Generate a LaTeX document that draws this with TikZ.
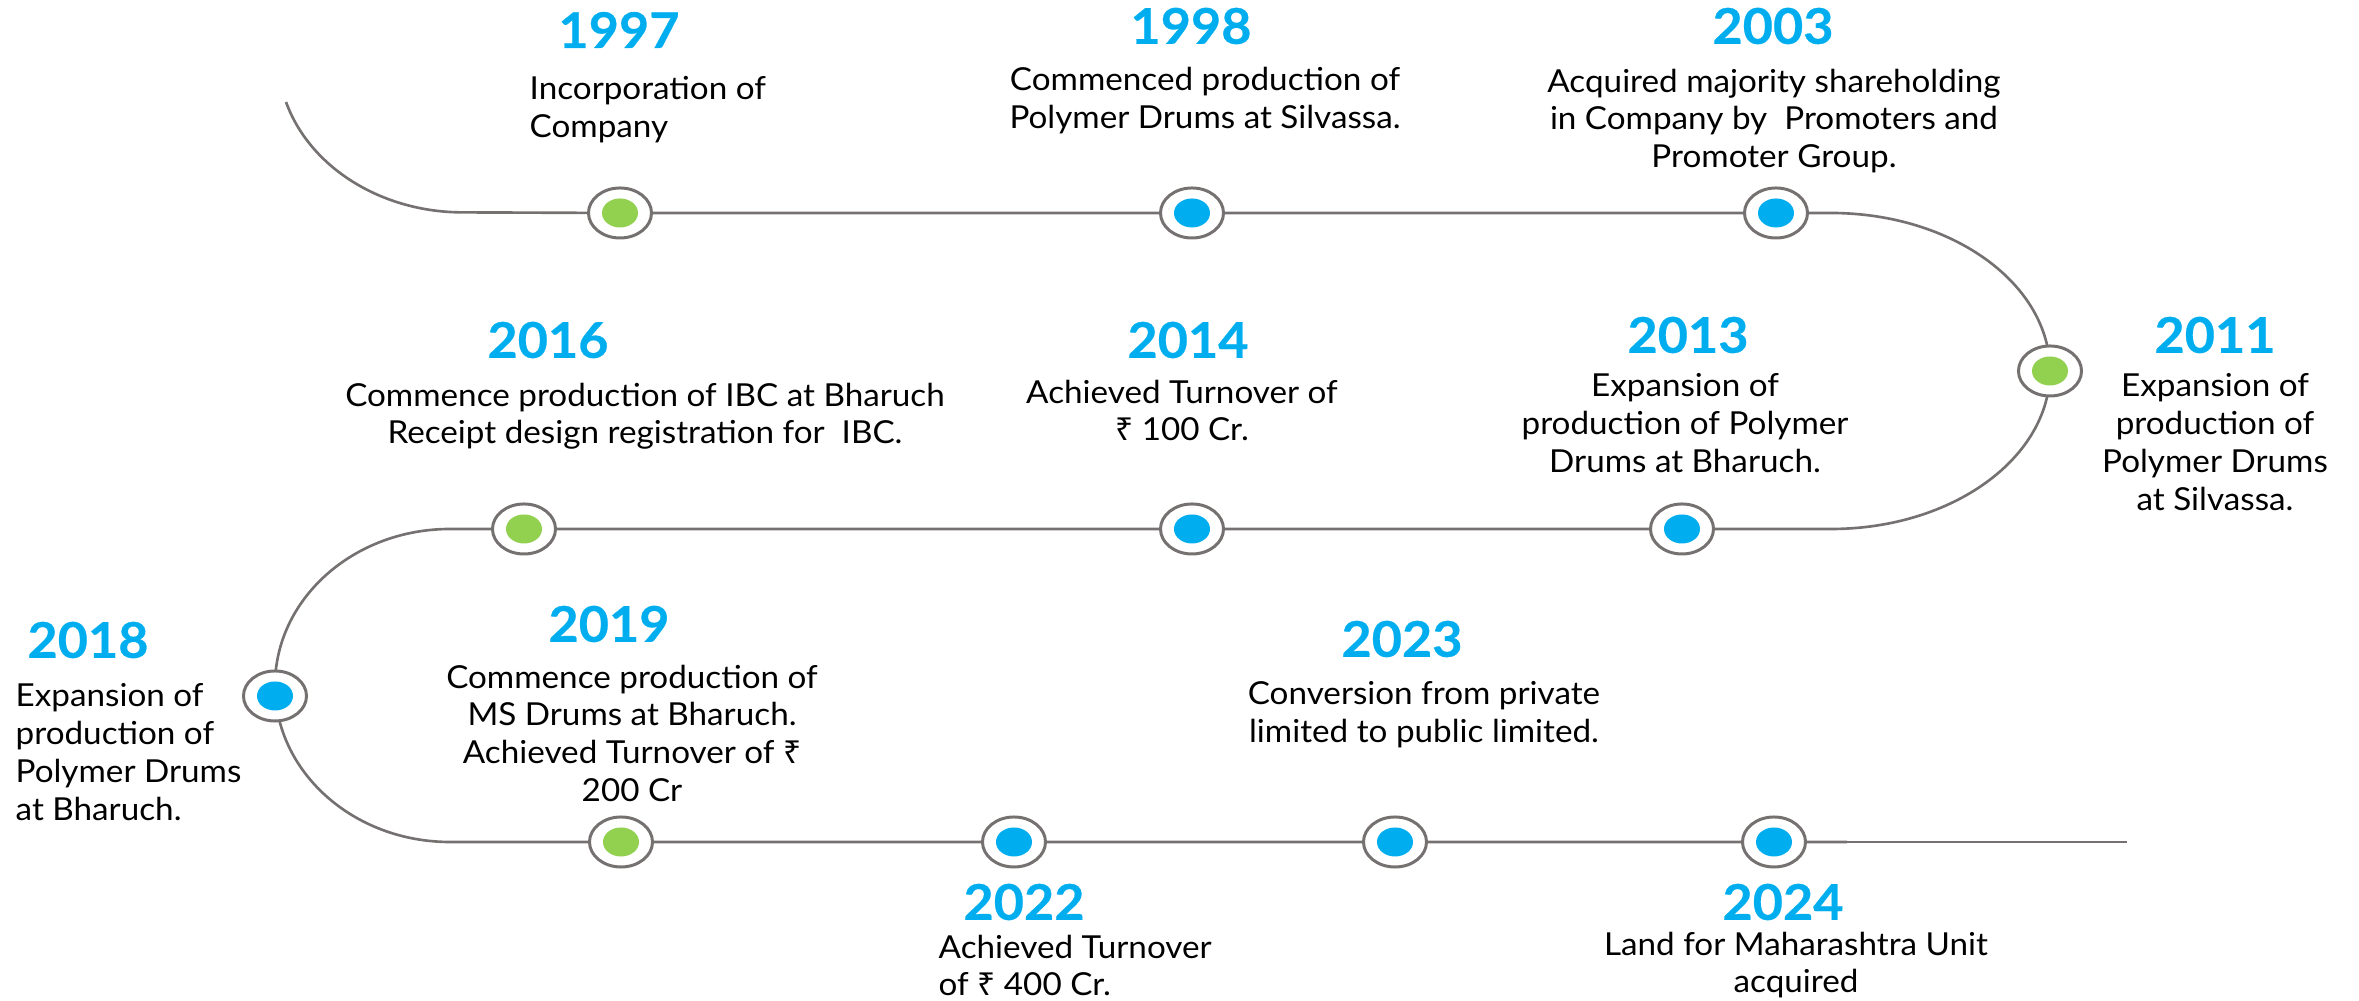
\documentclass[tikz,border=0pt]{standalone}
\usepackage{fontspec}
\setmainfont{Lato}[FakeStretch=1.05]
\newfontfamily\yearfont{Lato}[FakeStretch=1.06, FakeBold=0.5]
\newfontfamily\rupeefont{Noto Sans}
\newcommand{\rupee}{{\rupeefont ₹}}
\usetikzlibrary{shapes.geometric,backgrounds}
\definecolor{yearblue}{HTML}{00AEEF}
\definecolor{dotgreen}{HTML}{92D050}
\definecolor{trackgray}{HTML}{767171}
\tikzset{
	track/.style={draw=trackgray, line width=0.75pt},
	milestone/.style={ellipse, draw=trackgray, fill=white, line width=0.85pt,
		minimum width=0.63cm, minimum height=0.50cm, inner sep=0pt,
		path picture={\fill[#1] (path picture bounding box.center) ellipse [x radius=0.18cm, y radius=0.145cm];}},
	year/.style={text=yearblue, font=\fontsize{14}{16}\selectfont\yearfont\bfseries, inner sep=0pt},
	note/.style={font=\fontsize{9}{10.8}\selectfont, inner sep=0pt, align=center, anchor=north},
	noteleft/.style={note, align=left, anchor=north west}
}
\begin{document}
\begin{tikzpicture}[x=0.01cm, y=0.01cm]
	\useasboundingbox (0,0) rectangle (2359,-1001);
	%1997
	\node[milestone=dotgreen] (n97) at (620,-213) {};
	\node[year] (y97) at (619,-30) {1997};
	\node[noteleft] (t97) at (529,-76) {Incorporation of\\Company};
	%1998
	\node[milestone=yearblue] (n98) at (1192,-213) {};
	\node[year] (y98) at (1191,-26) {1998};
	\node[note] (t98) at (1205,-67) {Commenced production of\\Polymer Drums at Silvassa.};
	%2003
	\node[milestone=yearblue] (n03) at (1776,-213) {};
	\node[year] (y03) at (1773,-26) {2003};
	\node[note] (t03) at (1774,-68) {Acquired majority shareholding\\in Company by\ \ Promoters and\\Promoter Group.};
	%2011
	\node[milestone=dotgreen] (n11) at (2050,-371) {};
	\node[year] (y11) at (2215,-335) {2011};
	\node[note] (t11) at (2215,-373) {Expansion of\\production of\\Polymer Drums\\at Silvassa.};
	%2013
	\node[milestone=yearblue] (n13) at (1682,-529) {};
	\node[year] (y13) at (1688,-335) {2013};
	\node[note] (t13) at (1685,-373) {Expansion of\\production of Polymer\\Drums at Bharuch.};
	%2014
	\node[milestone=yearblue] (n14) at (1192,-529) {};
	\node[year] (y14) at (1188,-340) {2014};
	\node[note] (t14) at (1182,-379) {Achieved Turnover of\\\rupee\ 100 Cr.};
	%2016
	\node[milestone=dotgreen] (n16) at (524,-529) {};
	\node[year] (y16) at (548,-340) {2016};
	\node[note] (t16) at (645,-382) {Commence production of IBC at Bharuch\\Receipt design registration for\ \ IBC.};
	%2018
	\node[milestone=yearblue] (n18) at (275,-696) {};
	\node[year] (y18) at (88,-640) {2018};
	\node[noteleft] (t18) at (15,-683) {Expansion of\\production of\\Polymer Drums\\at Bharuch.};
	%2019
	\node[milestone=dotgreen] (n19) at (621,-842) {};
	\node[year] (y19) at (609,-624) {2019};
	\node[note] (t19) at (632,-664) {Commence production of\\MS Drums at Bharuch.\\Achieved Turnover of \rupee\\200 Cr};
	%2022
	\node[milestone=yearblue] (n22) at (1014,-842) {};
	\node[year] (y22) at (1024,-902) {2022};
	\node[noteleft] (t22) at (938,-934) {Achieved Turnover\\of \rupee\ 400 Cr.};
	%2023
	\node[milestone=yearblue] (n23) at (1395,-842) {};
	\node[year] (y23) at (1402,-639) {2023};
	\node[note] (t23) at (1424,-681) {Conversion from private\\limited to public limited.};
	%2024
	\node[milestone=yearblue] (n24) at (1774,-842) {};
	\node[year] (y24) at (1783,-902) {2024};
	\node[note] (t24) at (1796,-931) {Land for Maharashtra Unit\\acquired};

	%track
	\coordinate (tl) at (286,-102);
	\coordinate (rt) at (1831,-213);
	\coordinate (lt) at (450,-529);
	\coordinate (tj) at (1847,-842);
	\coordinate (te) at (2127,-842);
	\begin{scope}[on background layer]
		\draw[track] (tl) arc[start angle=197, end angle=270, x radius=185, y radius=156]
			-- (n97.center) -- (n98.center) -- (n03.center) -- (rt)
			arc[start angle=90, end angle=-90, x radius=219, y radius=158]
			-- (n13.center) -- (n14.center) -- (n16.center) -- (lt)
			arc[start angle=90, end angle=270, x radius=175, y radius=156.5]
			-- (n19.center) -- (n22.center) -- (n23.center) -- (n24.center) -- (tj);
		\draw[trackgray, line width=0.3pt] (tj) -- (te);
	\end{scope}
\end{tikzpicture}
\end{document}
